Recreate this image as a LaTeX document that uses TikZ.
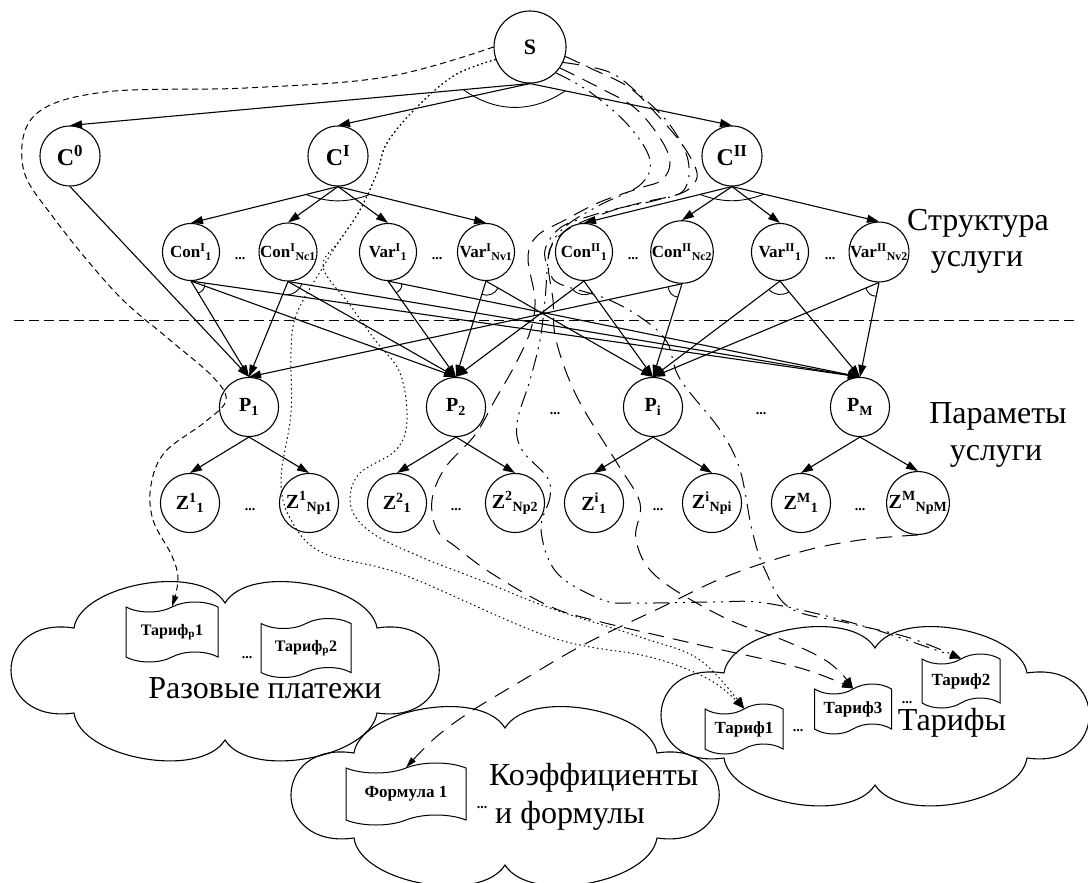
\documentclass[tikz,border=0pt]{standalone}
\usepackage{fontspec}
\setmainfont{Liberation Serif}
\usepackage{tikz}
\usetikzlibrary{arrows.meta, positioning, shapes.symbols, calc}

\begin{document}
\begin{tikzpicture}[x=1pt, y=-1pt,
  vert/.style={circle, draw, line width=1.1pt, minimum size=57pt, inner sep=0pt, font=\fontsize{17}{17}\selectfont\bfseries},
  vbig/.style={vert, minimum size=60pt, font=\fontsize{24}{24}\selectfont\bfseries},
  vmid/.style={vert, minimum size=59pt, font=\fontsize{20}{20}\selectfont\bfseries},
  big/.style={font=\fontsize{32}{32}\selectfont, inner sep=0pt, anchor=base},
  dots/.style={font=\fontsize{14}{14}\selectfont\bfseries, inner sep=0pt, anchor=base},
  doc/.style={tape, draw, line width=1pt, inner sep=1pt, tape bend height=10pt, font=\fontsize{17}{17}\selectfont\bfseries},
  edge/.style={-{Triangle[length=12pt,width=8pt]}, line width=1.1pt},
  link/.style={line width=0.9pt},
  map/.style={line width=1pt}]
\useasboundingbox (0,0) rectangle (1088,883);

% clouds
\foreach \cx/\cy in {225/670, 505/795, 875/715}
  \draw[line width=1.1pt, shift={(\cx,\cy)}] (-151,-42)
    .. controls (-145,-85) and (-25,-108) .. (0,-67)
    .. controls (25,-108) and (145,-85) .. (152,-42)
    .. controls (235,-55) and (235,55) .. (152,43)
    .. controls (145,88) and (25,110) .. (0,70)
    .. controls (-25,110) and (-145,88) .. (-151,43)
    .. controls (-235,55) and (-235,-55) .. cycle;

% service structure
\node[vert, minimum size=72pt, font=\fontsize{22}{22}\selectfont\bfseries] (S) at (530,47) {S};
\node[vbig] (C0) at (70,156) {C\textsuperscript{0}};
\node[vbig] (C1) at (338,156) {C\textsuperscript{I}};
\node[vbig] (C2) at (732,156) {C\textsuperscript{II}};

\node[vert] (con11) at (191,252) {Con\textsuperscript{I}\textsubscript{1}};
\node[vert] (con1n) at (288,252) {Con\textsuperscript{I}\textsubscript{Nc1}};
\node[vert] (var11) at (388,252) {Var\textsuperscript{I}\textsubscript{1}};
\node[vert] (var1n) at (486,252) {Var\textsuperscript{I}\textsubscript{Nv1}};
\node[vert] (con21) at (584,252) {Con\textsuperscript{II}\textsubscript{1}};
\node[vert] (con2n) at (682,252) {Con\textsuperscript{II}\textsubscript{Nc2}};
\node[vert] (var21) at (780,252) {Var\textsuperscript{II}\textsubscript{1}};
\node[vert] (var2n) at (879,252) {Var\textsuperscript{II}\textsubscript{Nv2}};

% parameters
\node[vmid] (P1) at (249,407) {P\textsubscript{1}};
\node[vmid] (P2) at (456,407) {P\textsubscript{2}};
\node[vmid] (Pi) at (653,407) {P\textsubscript{i}};
\node[vmid] (PM) at (860,407) {P\textsubscript{M}};

\node[vmid] (z11) at (190,503) {Z\textsuperscript{1}\textsubscript{1}};
\node[vmid] (z1n) at (309,503) {Z\textsuperscript{1}\textsubscript{Np1}};
\node[vmid] (z21) at (397,503) {Z\textsuperscript{2}\textsubscript{1}};
\node[vmid] (z2n) at (515,503) {Z\textsuperscript{2}\textsubscript{Np2}};
\node[vmid] (zi1) at (594,503) {Z\textsuperscript{i}\textsubscript{1}};
\node[vmid] (zin) at (712,503) {Z\textsuperscript{i}\textsubscript{Npi}};
\node[vmid] (zM1) at (801,503) {Z\textsuperscript{M}\textsubscript{1}};
\node[vmid] (zMn) at (918,503) {Z\textsuperscript{M}\textsubscript{NpM}};

% dots
\node[dots] (d1) at (240,259) {...};
\node[dots] (d2) at (437,259) {...};
\node[dots] (d3) at (633,259) {...};
\node[dots] (d4) at (830,259) {...};
\node[dots] (d5) at (555,414) {...};
\node[dots] (d6) at (761,414) {...};
\node[dots] (d7) at (250,510) {...};
\node[dots] (d8) at (456,510) {...};
\node[dots] (d9) at (658,510) {...};
\node[dots] (d10) at (860,510) {...};

% texts
\node[big] (struct) at (978,230) {Структура};
\node[big] (structb) at (977,266) {услуги};
\node[big] (param) at (998,423) {Параметы};
\node[big] (paramb) at (996,460) {услуги};

% documents
\node[doc, minimum width=92pt, minimum height=60pt, font=\fontsize{16}{16}\selectfont\bfseries] (trp1) at (172,632) {Тариф\textsubscript{р}1};
\node[doc, minimum width=90pt, minimum height=59pt, font=\fontsize{16}{16}\selectfont\bfseries] (trp2) at (306,648) {Тариф\textsubscript{р}2};
\node[dots] (d11) at (247,658) {...};
\node[big] (razov) at (265,698) {Разовые платежи};

\node[doc, minimum width=120pt, minimum height=62pt, font=\fontsize{17}{17}\selectfont\bfseries] (form1) at (406,794) {Формула 1};
\node[dots] (d12) at (482,808) {...};
\node[big, anchor=base west] (koef) at (489,785) {Коэффициенты};
\node[big, anchor=base west] (koefb) at (495,823) {и формулы};

\node[doc, minimum width=78pt, minimum height=50pt] (tar1) at (744,729) {Тариф1};
\node[doc, minimum width=77pt, minimum height=50pt] (tar3) at (853,709) {Тариф3};
\node[doc, minimum width=78pt, minimum height=54pt] (tar2) at (961,681) {Тариф2};
\node[dots] (d13) at (798,731) {...};
\node[dots] (d14) at (907,703) {...};
\node[big] (tarif) at (952,730) {Тарифы};

% separator
\coordinate (sepL) at (14,320);
\coordinate (sepR) at (1077,320);
\draw[dash pattern=on 10pt off 5pt, line width=0.8pt] (sepL) -- (sepR);

% structure edges
\foreach \a/\b in {S/C0, S/C1, S/C2, C1/con11, C1/con1n, C1/var11, C1/var1n,
  C2/con21, C2/con2n, C2/var21, C2/var2n, C0/P1,
  con11/P1, con11/P2, con11/PM, con1n/P1, con1n/P2, con1n/PM,
  var11/P2, var11/PM, var1n/P2, var1n/Pi, con21/P2, con21/Pi,
  con2n/P1, con2n/Pi, var21/Pi, var21/PM, var2n/Pi, var2n/PM,
  P1/z11, P1/z1n, P2/z21, P2/z2n, Pi/zi1, Pi/zin, PM/zM1, PM/zMn}
  \draw[edge] (\a.south) -- (\b.north);

% and-arcs
\draw[link] ($(S.south)!67pt!(C0.north)$) to[bend right=35] ($(S.south)!36pt!(C2.north)$);
\foreach \n/\a/\b in {C1/con11/var1n, C2/con21/var2n}
  \draw[link] ($(\n.south)!33pt!(\a.north)$) to[bend right=20] ($(\n.south)!33pt!(\b.north)$);
\foreach \n/\a/\b in {con11/P1/PM, con1n/P1/PM, var11/P2/PM, var1n/P2/Pi,
  con21/P2/Pi, con2n/P1/Pi, var21/Pi/PM, var2n/Pi/PM}
  \draw[link] ($(\n.south)!14pt!(\a.north)$) to[bend right=40] ($(\n.south)!14pt!(\b.north)$);

% mapping to tariffs
\draw[map, dash pattern=on 6pt off 4pt, -{Triangle[length=11pt,width=6pt]}] plot[smooth, tension=0.6] coordinates {
  (S.west) (386,77) (246,88) (105,92) (35,115) (23,167) (53,217) (116,293)
  (170,340) (212,376) (226,400) (205,422) (165,452) (151,485) (153,520) (172,556) (178,580) (trp1.north)};
\draw[map, dash pattern=on 1.5pt off 3pt, -{Triangle[length=11pt,width=9pt]}] plot[smooth, tension=0.6] coordinates {
  (S.200) (455,75) (417,107) (387,143) (377,173) (360,210) (340,240) (323,267)
  (297,313) (291,350) (291,413) (281,480) (291,520) (323,553) (404,575) (550,637) (650,657) (710,680) (tar1.north)};
\draw[map, dash pattern=on 1.5pt off 3pt, -{Triangle[length=11pt,width=9pt]}] plot[smooth, tension=0.6] coordinates {
  (S.200) (455,75) (417,107) (387,143) (377,173) (360,210) (340,240) (323,267)
  (350,305) (375,340) (400,373) (407,420) (396,450) (358,475) (351,507) (372,533) (421,557)
  (480,580) (550,608) (640,637) (700,660) (tar1.north)};
\draw[map, dash pattern=on 16pt off 9pt, -{Triangle[length=11pt,width=8pt]}] plot[smooth, tension=0.6] coordinates {
  (S.-35) (600,88) (635,108) (660,138) (670,162) (662,180) (640,188) (600,202) (565,220)
  (537,236) (528,258) (535,300) (530,332) (515,365) (495,400) (475,435) (445,468) (432,500)
  (437,530) (456,547) (491,573) (547,605) (593,620) (700,645) (800,668) (tar3.north)};
\draw[map, dash pattern=on 16pt off 9pt, -{Triangle[length=11pt,width=8pt]}] plot[smooth, tension=0.6] coordinates {
  (S.-15) (590,68) (630,88) (660,118) (684,147) (697,173) (691,187) (676,195) (640,203)
  (605,213) (570,228) (552,245) (548,265) (553,300) (556,340) (577,397) (617,463)
  (640,503) (636,540) (657,577) (723,617) (783,640) (820,657) (840,672) (tar3.north)};
\draw[map, dash pattern=on 16pt off 7pt on 2pt off 7pt, -{Triangle[length=11pt,width=8pt]}] plot[smooth, tension=0.6] coordinates {
  (S.-25) (609,72) (640,95) (670,125) (688,160) (684,190) (657,200) (620,208) (587,217)
  (560,228) (545,250) (550,272) (560,284) (607,299) (643,319) (667,342) (680,379)
  (720,430) (740,470) (752,530) (765,570) (790,608) (848,623) (910,638) (tar2.north)};
\draw[map, dash pattern=on 16pt off 6pt on 2pt off 6pt on 2pt off 6pt, -{Triangle[length=11pt,width=8pt]}] plot[smooth, tension=0.6] coordinates {
  (S.-45) (590,92) (628,125) (650,160) (640,185) (600,205) (566,226) (550,250)
  (545,300) (540,340) (530,380) (517,423) (522,450) (547,477) (550,497) (541,530)
  (557,573) (603,600) (637,603) (713,602) (757,602) (810,612) (870,628) (930,648) (tar2.north)};
\draw[map, dash pattern=on 16pt off 10pt, -{Triangle[length=11pt,width=6pt]}] plot[smooth, tension=0.6] coordinates {
  (zMn.south) (860,540) (800,552) (725,577) (660,608) (583,645) (523,680) (470,712) (435,738) (form1.north)};
\end{tikzpicture}
\end{document}
